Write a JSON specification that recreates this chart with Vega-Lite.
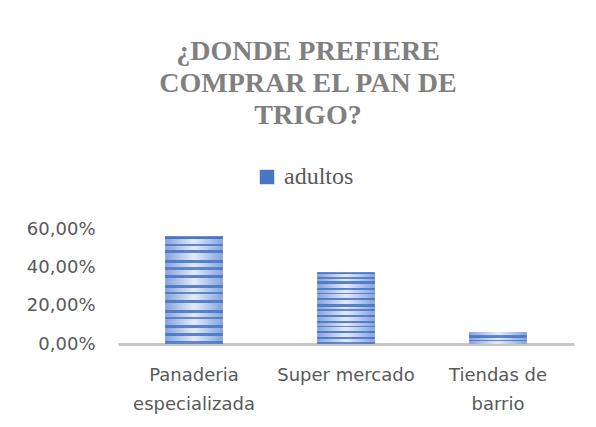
{
  "$schema": "https://vega.github.io/schema/vega-lite/v6.json",
  "width": 456,
  "height": 115,
  "autosize": {"type": "none"},
  "padding": {"left": 118, "top": 229, "right": 22, "bottom": 83},
  "background": "white",
  "config": {
    "view": {"stroke": null},
    "locale": {"number": {"decimal": ",", "thousands": ".", "grouping": [3], "currency": ["", " €"]}}
  },
  "title": {
    "text": ["¿DONDE PREFIERE", "COMPRAR EL PAN DE", "TRIGO?"],
    "font": "Liberation Serif",
    "fontSize": 28,
    "fontWeight": "bold",
    "color": "#808080",
    "lineHeight": 32,
    "anchor": "middle",
    "dx": -38,
    "offset": 35
  },
  "data": {
    "values": [
      {"lugar": "Panaderia especializada", "serie": "adultos", "valor": 0.5625},
      {"lugar": "Super mercado", "serie": "adultos", "valor": 0.375},
      {"lugar": "Tiendas de barrio", "serie": "adultos", "valor": 0.0625}
    ]
  },
  "encoding": {
    "x": {
      "field": "lugar",
      "type": "nominal",
      "sort": null,
      "scale": {"paddingInner": 0.62, "paddingOuter": 0.31},
      "axis": {
        "title": null,
        "labelAngle": 0,
        "ticks": false,
        "domainColor": "#c8c8c8",
        "domainWidth": 3,
        "labelFont": "DejaVu Sans",
        "labelFontSize": 18,
        "labelColor": "#595959",
        "labelPadding": 22,
        "labelLineHeight": 29,
        "labelExpr": "datum.value == 'Panaderia especializada' ? ['Panaderia', 'especializada'] : datum.value == 'Tiendas de barrio' ? ['Tiendas de', 'barrio'] : datum.value"
      }
    },
    "y": {
      "field": "valor",
      "type": "quantitative",
      "scale": {"domain": [0, 0.6], "nice": false},
      "axis": {
        "title": null,
        "values": [0, 0.2, 0.4, 0.6],
        "format": ".2%",
        "grid": false,
        "domain": false,
        "ticks": false,
        "labelFont": "DejaVu Sans",
        "labelFontSize": 18,
        "labelColor": "#595959",
        "labelPadding": 23
      }
    }
  },
  "layer": [
    {
      "mark": {
        "type": "bar",
        "fill": {
          "gradient": "linear", "x1": 0, "x2": 1, "y1": 0, "y2": 0,
          "stops": [
            {"offset": 0, "color": "#86a3dc"},
            {"offset": 0.5, "color": "#e4ebf8"},
            {"offset": 1, "color": "#86a3dc"}
          ]
        }
      },
      "encoding": {
        "color": {
          "field": "serie",
          "type": "nominal",
          "scale": {"range": ["#4a76c6"]},
          "legend": {
            "title": null,
            "orient": "none",
            "legendX": 137,
            "legendY": -64,
            "symbolType": "square",
            "symbolSize": 210,
            "symbolStrokeWidth": 0,
            "labelFont": "Liberation Serif",
            "labelFontSize": 24,
            "labelColor": "#595959",
            "labelOffset": 5
          }
        }
      }
    },
    {
      "mark": {
        "type": "bar",
        "fill": {
          "gradient": "linear", "x1": 0, "x2": 0, "y1": 0, "y2": 1,
          "stops": [
            {"offset": 0, "color": "rgba(68,114,196,0.95)"},
            {"offset": 0.03, "color": "rgba(68,114,196,0.95)"},
            {"offset": 0.03, "color": "rgba(68,114,196,0)"},
            {"offset": 0.07, "color": "rgba(68,114,196,0)"},
            {"offset": 0.07, "color": "rgba(68,114,196,0.8)"},
            {"offset": 0.09, "color": "rgba(68,114,196,0.8)"},
            {"offset": 0.09, "color": "rgba(68,114,196,0)"},
            {"offset": 0.13, "color": "rgba(68,114,196,0)"},
            {"offset": 0.13, "color": "rgba(68,114,196,0.85)"},
            {"offset": 0.16, "color": "rgba(68,114,196,0.85)"},
            {"offset": 0.16, "color": "rgba(68,114,196,0)"},
            {"offset": 0.22, "color": "rgba(68,114,196,0)"},
            {"offset": 0.22, "color": "rgba(68,114,196,0.85)"},
            {"offset": 0.25, "color": "rgba(68,114,196,0.85)"},
            {"offset": 0.25, "color": "rgba(68,114,196,0)"},
            {"offset": 0.29, "color": "rgba(68,114,196,0)"},
            {"offset": 0.29, "color": "rgba(68,114,196,0.8)"},
            {"offset": 0.31, "color": "rgba(68,114,196,0.8)"},
            {"offset": 0.31, "color": "rgba(68,114,196,0)"},
            {"offset": 0.36, "color": "rgba(68,114,196,0)"},
            {"offset": 0.36, "color": "rgba(68,114,196,0.85)"},
            {"offset": 0.39, "color": "rgba(68,114,196,0.85)"},
            {"offset": 0.39, "color": "rgba(68,114,196,0)"},
            {"offset": 0.45, "color": "rgba(68,114,196,0)"},
            {"offset": 0.45, "color": "rgba(68,114,196,0.85)"},
            {"offset": 0.48, "color": "rgba(68,114,196,0.85)"},
            {"offset": 0.48, "color": "rgba(68,114,196,0)"},
            {"offset": 0.52, "color": "rgba(68,114,196,0)"},
            {"offset": 0.52, "color": "rgba(68,114,196,0.8)"},
            {"offset": 0.54, "color": "rgba(68,114,196,0.8)"},
            {"offset": 0.54, "color": "rgba(68,114,196,0)"},
            {"offset": 0.59, "color": "rgba(68,114,196,0)"},
            {"offset": 0.59, "color": "rgba(68,114,196,0.85)"},
            {"offset": 0.62, "color": "rgba(68,114,196,0.85)"},
            {"offset": 0.62, "color": "rgba(68,114,196,0)"},
            {"offset": 0.68, "color": "rgba(68,114,196,0)"},
            {"offset": 0.68, "color": "rgba(68,114,196,0.85)"},
            {"offset": 0.71, "color": "rgba(68,114,196,0.85)"},
            {"offset": 0.71, "color": "rgba(68,114,196,0)"},
            {"offset": 0.75, "color": "rgba(68,114,196,0)"},
            {"offset": 0.75, "color": "rgba(68,114,196,0.8)"},
            {"offset": 0.77, "color": "rgba(68,114,196,0.8)"},
            {"offset": 0.77, "color": "rgba(68,114,196,0)"},
            {"offset": 0.82, "color": "rgba(68,114,196,0)"},
            {"offset": 0.82, "color": "rgba(68,114,196,0.85)"},
            {"offset": 0.85, "color": "rgba(68,114,196,0.85)"},
            {"offset": 0.85, "color": "rgba(68,114,196,0)"},
            {"offset": 0.9, "color": "rgba(68,114,196,0)"},
            {"offset": 0.9, "color": "rgba(68,114,196,0.85)"},
            {"offset": 0.93, "color": "rgba(68,114,196,0.85)"},
            {"offset": 0.93, "color": "rgba(68,114,196,0)"},
            {"offset": 0.97, "color": "rgba(68,114,196,0)"},
            {"offset": 0.97, "color": "rgba(68,114,196,0.8)"},
            {"offset": 1, "color": "rgba(68,114,196,0.8)"}
          ]
        }
      }
    }
  ]
}
